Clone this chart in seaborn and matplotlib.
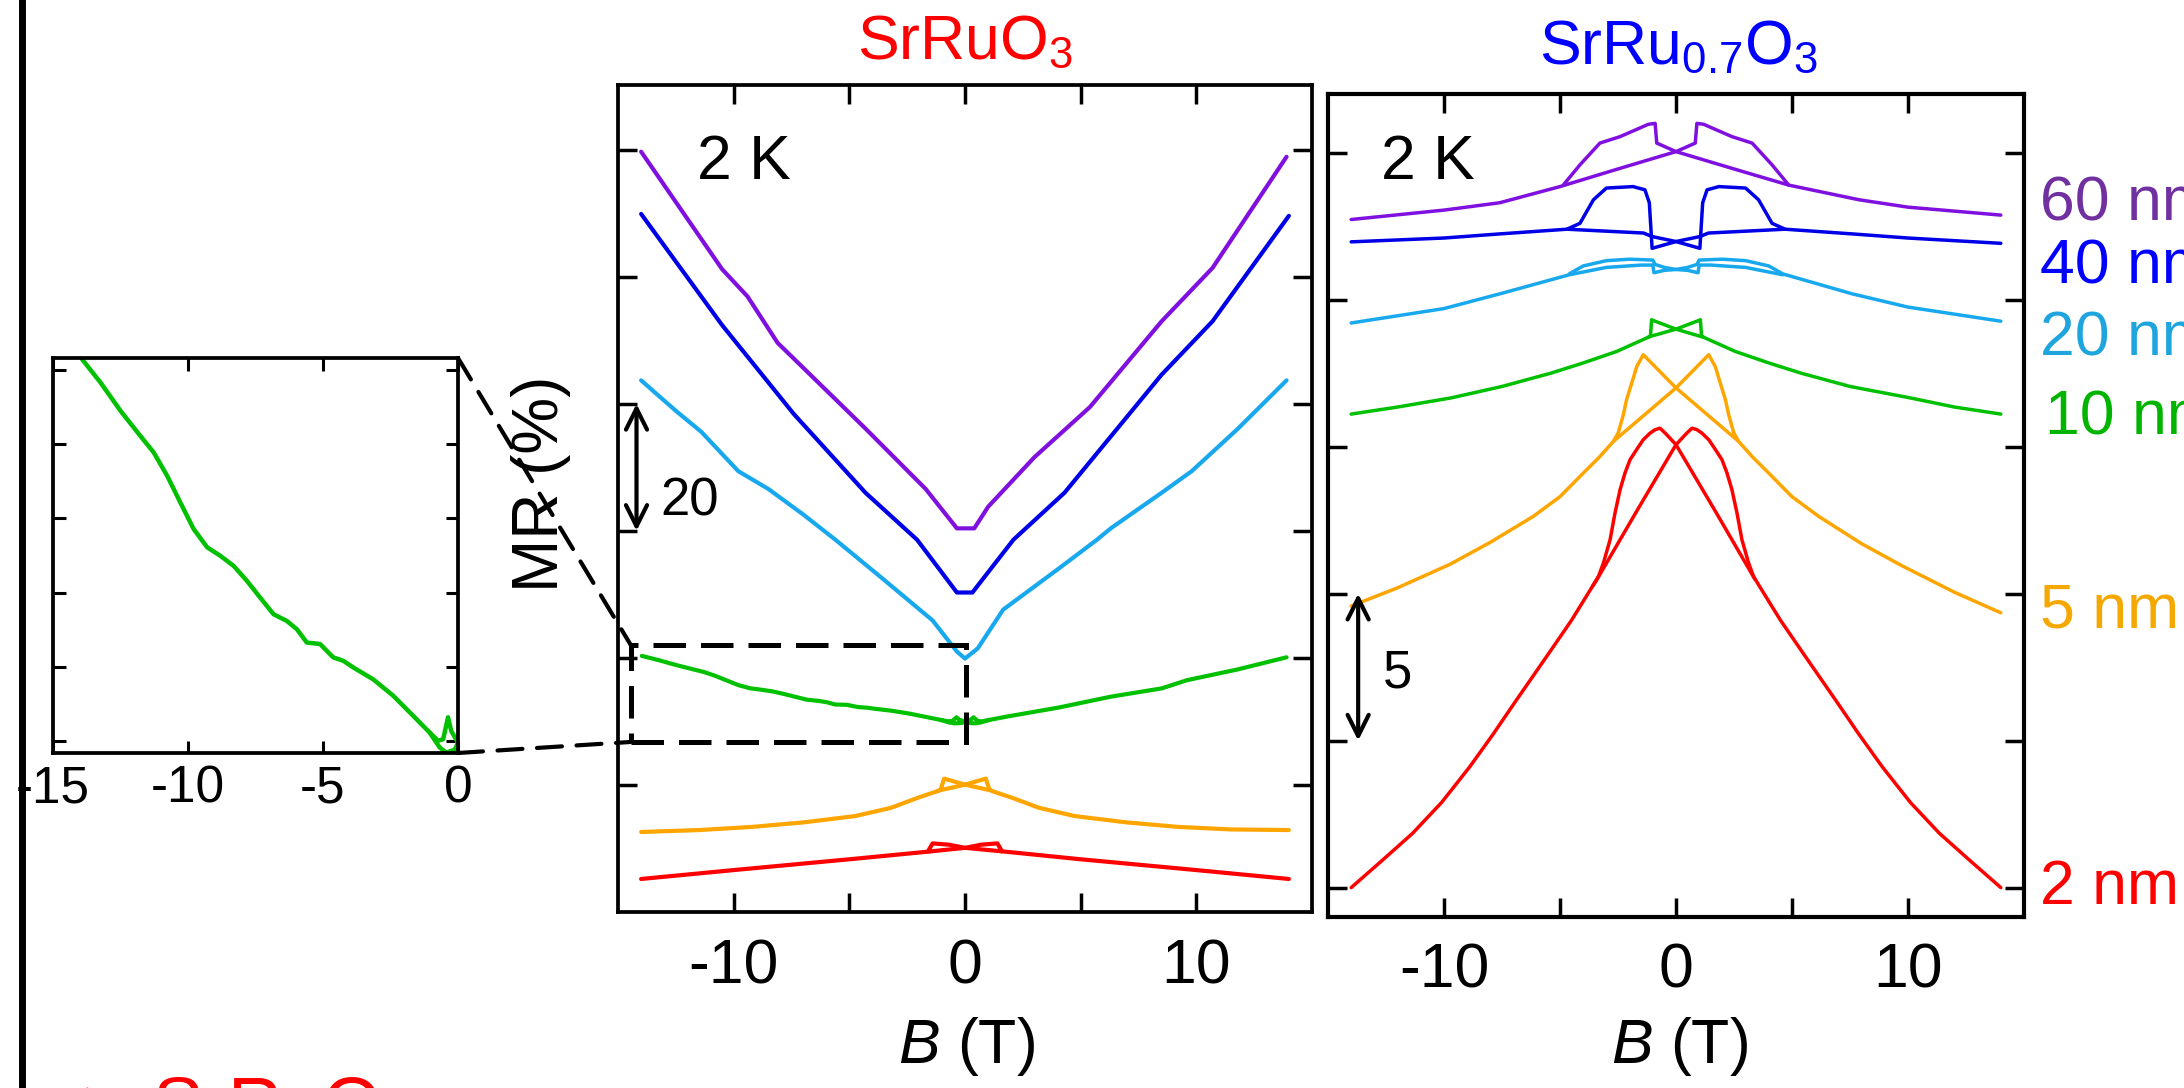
import matplotlib
matplotlib.use("Agg")
import matplotlib.pyplot as plt
import seaborn as sns
from matplotlib.lines import Line2D
from matplotlib.patches import Rectangle, ConnectionPatch

# ---- values: (B in T, MR in % incl. offset) ----
# SrRuO3 panel (left)
SRO_60 = [(-14.0, 99.7), (-10.5, 81.2), (-9.4, 76.9), (-8.1, 69.6), (-7.0, 65.7), (-4.3, 56.1),
          (-1.7, 46.6), (-0.35, 40.4), (0.4, 40.4), (1.0, 43.8), (3.0, 51.6), (5.4, 59.5),
          (8.5, 73.0), (10.7, 81.4), (13.9, 98.9)]
SRO_40 = [(-14.0, 89.9), (-10.5, 72.4), (-7.4, 58.4), (-4.3, 46.0), (-2.07, 38.6), (-0.35, 30.3),
          (0.32, 30.3), (2.09, 38.6), (4.3, 46.0), (8.5, 64.6), (10.7, 73.0), (14.0, 89.6)]
SRO_20 = [(-14.0, 63.7), (-12.5, 58.9), (-11.4, 55.6), (-9.8, 49.4), (-8.5, 46.6), (-7.0, 42.6),
          (-5.6, 38.6), (-3.6, 32.6), (-1.4, 25.9), (-0.35, 21.0), (0.0, 19.9), (0.55, 21.5),
          (1.65, 27.6), (4.1, 34.2), (5.7, 38.6), (6.3, 40.4), (8.5, 46.0), (9.8, 49.4),
          (11.8, 56.1), (13.9, 63.7)]
SRO_10 = [(-13.97, 20.32), (-13.24, 19.65), (-12.5, 18.89), (-11.76, 18.21), (-11.27, 17.77),
          (-10.77, 17.14), (-10.28, 16.42), (-9.79, 15.71), (-9.29, 15.22), (-8.8, 14.99),
          (-8.31, 14.72), (-7.82, 14.32), (-7.33, 13.87), (-6.83, 13.42), (-6.34, 13.24),
          (-5.97, 13.02), (-5.6, 12.66), (-5.11, 12.62), (-4.62, 12.26), (-4.25, 12.17),
          (-3.88, 11.99), (-3.14, 11.67), (-2.4, 11.23), (-1.66, 10.69), (-1.05, 10.24),
          (-0.68, 9.84), (-0.43, 9.7), (-0.12, 9.78), (0.0, 9.97), (0.25, 10.28), (0.37, 10.65),
          (0.55, 10.06), (0.74, 10.02), (1.05, 10.24), (1.86, 10.8), (4.07, 12.2), (6.3, 13.9),
          (8.5, 15.2), (9.6, 16.5), (11.8, 18.2), (13.9, 20.1)]
SRO_10_LOOP = [(1.05, 10.24), (0.68, 9.84), (0.43, 9.7), (0.12, 9.78), (0.0, 9.97), (-0.25, 10.28),
               (-0.37, 10.65), (-0.55, 10.06), (-0.74, 10.02), (-1.05, 10.24)]
SRO_5 = [(-14.0, -7.4), (-11.5, -7.1), (-9.2, -6.6), (-7.0, -5.9), (-4.75, -4.9), (-3.2, -3.6),
         (-2.1, -2.1), (-1.1, -0.85), (0.0, 0.05), (0.9, 1.0), (1.05, -0.7), (1.2, -1.0),
         (2.1, -2.1), (3.2, -3.6), (4.75, -4.9), (7.0, -5.9), (9.2, -6.6), (11.5, -7.0), (14.0, -7.1)]
SRO_5_LOOP = [(1.1, -0.85), (0.0, 0.05), (-0.9, 1.0), (-1.05, -0.7), (-1.2, -1.0)]
SRO_2 = [(-14.0, -14.8), (-10.0, -13.4), (-5.0, -11.7), (-1.6, -10.5), (0.0, -9.9), (0.7, -9.4),
         (1.4, -9.2), (1.6, -10.45), (5.0, -11.7), (10.0, -13.4), (14.0, -14.8)]
SRO_2_LOOP = [(1.6, -10.45), (0.0, -9.9), (-0.7, -9.4), (-1.4, -9.2), (-1.6, -10.45)]

# SrRu0.7O3 panel (right)
SR7_60 = [(-14.0, 22.73), (-10.0, 23.05), (-7.6, 23.3), (-5.0, 23.85), (-2.5, 24.45), (0.0, 25.04),
          (0.83, 25.33), (0.9, 26.0), (1.19, 25.97), (2.41, 25.55), (3.28, 25.33), (4.14, 24.59),
          (4.86, 23.9), (7.9, 23.4), (10.0, 23.15), (14.0, 22.88)]
SR7_60_LOOP = [(4.86, 23.9), (2.5, 24.45), (0.0, 25.04), (-0.83, 25.33), (-0.9, 26.0), (-1.19, 25.97),
               (-2.41, 25.55), (-3.28, 25.33), (-4.14, 24.59), (-4.86, 23.9)]
SR7_40 = [(-14.0, 21.97), (-10.0, 22.1), (-7.6, 22.24), (-4.7, 22.4), (-1.4, 22.27), (-1.03, 22.15),
          (0.0, 21.98), (1.03, 21.75), (1.08, 22.4), (1.15, 23.3), (1.34, 23.74), (1.85, 23.85),
          (3.0, 23.8), (3.56, 23.4), (4.14, 22.6), (4.7, 22.4), (7.6, 22.24), (10.0, 22.1), (14.0, 21.92)]
SR7_40_LOOP = [(4.7, 22.4), (1.4, 22.27), (1.03, 22.15), (0.0, 21.98), (-1.03, 21.75), (-1.08, 22.4),
               (-1.15, 23.3), (-1.34, 23.74), (-1.85, 23.85), (-3.0, 23.8), (-3.56, 23.4),
               (-4.14, 22.6), (-4.7, 22.4)]
SR7_20 = [(-14.0, 19.21), (-10.0, 19.7), (-7.6, 20.2), (-4.6, 20.85), (-3.0, 21.1), (-1.5, 21.18),
          (-1.0, 21.18), (-0.95, 20.92), (-0.5, 21.0), (0.0, 21.03), (0.5, 21.1), (0.9, 21.2),
          (1.0, 21.35), (2.0, 21.38), (3.0, 21.33), (4.0, 21.15), (4.6, 20.88), (7.6, 20.2),
          (10.0, 19.75), (14.0, 19.27)]
SR7_20_LOOP = [(4.6, 20.85), (3.0, 21.1), (1.5, 21.18), (1.0, 21.18), (0.95, 20.92), (0.5, 21.0),
               (0.0, 21.03), (-0.5, 21.1), (-0.9, 21.2), (-1.0, 21.35), (-2.0, 21.38), (-3.0, 21.33),
               (-4.0, 21.15), (-4.6, 20.88)]
SR7_10 = [(-14.0, 16.11), (-12.0, 16.35), (-9.7, 16.66), (-7.5, 17.05), (-5.4, 17.5), (-4.0, 17.85),
          (-2.56, 18.24), (-1.12, 18.75), (0.0, 19.0), (1.0, 19.3), (1.05, 19.32), (1.1, 18.78),
          (1.2, 18.72), (2.56, 18.24), (4.0, 17.85), (5.4, 17.5), (7.5, 17.05), (10.1, 16.66),
          (12.0, 16.35), (14.0, 16.11)]
SR7_10_LOOP = [(1.2, 18.72), (0.0, 19.0), (-1.0, 19.3), (-1.05, 19.32), (-1.1, 18.78), (-1.2, 18.72)]
SR7_5 = [(-14.0, 9.58), (-12.0, 10.2), (-9.74, 11.0), (-8.0, 11.75), (-6.15, 12.63), (-5.0, 13.3),
         (-4.0, 14.1), (-3.3, 14.65), (-2.7, 15.18), (0.0, 17.0), (1.41, 18.13), (1.69, 17.73),
         (1.91, 17.16), (2.13, 16.6), (2.27, 16.09), (2.49, 15.47), (2.7, 15.18), (3.3, 14.65),
         (4.0, 14.1), (5.0, 13.3), (6.15, 12.63), (8.0, 11.7), (9.74, 10.95), (12.0, 10.05),
         (14.0, 9.35)]
SR7_5_LOOP = [(2.7, 15.18), (0.0, 17.0), (-1.41, 18.13), (-1.69, 17.73), (-1.91, 17.16),
              (-2.13, 16.6), (-2.27, 16.09), (-2.49, 15.47), (-2.7, 15.18)]
SR7_2 = [(-14.0, 0.0), (-12.7, 0.9), (-11.35, 1.85), (-10.1, 2.9), (-8.9, 4.1), (-7.9, 5.2),
         (-6.87, 6.39), (-5.5, 7.95), (-4.5, 9.1), (-3.6, 10.25), (-3.41, 10.48), (-1.7, 12.8),
         (0.0, 15.07), (0.45, 15.45), (0.69, 15.63), (0.9, 15.58), (1.12, 15.46), (1.41, 15.24),
         (1.7, 14.9), (1.98, 14.56), (2.2, 14.1), (2.41, 13.54), (2.63, 12.74), (2.84, 11.84),
         (3.13, 11.04), (3.34, 10.59), (3.6, 10.25), (4.5, 9.1), (5.5, 7.95), (6.87, 6.39),
         (7.9, 5.2), (8.9, 4.1), (10.1, 2.9), (11.35, 1.85), (12.7, 0.9), (14.0, 0.0)]
SR7_2_LOOP = [(3.41, 10.48), (1.7, 12.8), (0.0, 15.07), (-0.45, 15.45), (-0.69, 15.63), (-0.9, 15.58),
              (-1.12, 15.46), (-1.41, 15.24), (-1.7, 14.9), (-1.98, 14.56), (-2.2, 14.1),
              (-2.41, 13.54), (-2.63, 12.74), (-2.84, 11.84), (-3.13, 11.04), (-3.34, 10.59),
              (-3.6, 10.25)]

THICKNESS = ['60 nm', '40 nm', '20 nm', '10 nm', '5 nm', '2 nm']
LABEL_Y = [23.27, 21.12, 18.67, 15.99, 9.42, 0.0]
CURVE_COLORS = ['#8010E0', '#0000E8', '#18A8EE', '#00C000', '#FFA500', '#FF0000']
LABEL_COLORS = ['#7030A0', '#0000FF', '#1FA5DE', '#00B400', '#F5A800', '#FF0000']

W, H = 2184, 1088

sns.set_style("ticks")
plt.rcParams['font.family'] = ['Liberation Sans', 'DejaVu Sans']
plt.rcParams['mathtext.fontset'] = 'custom'
plt.rcParams['mathtext.rm'] = 'Liberation Sans'
plt.rcParams['mathtext.it'] = 'Liberation Sans:italic'
plt.rcParams['axes.unicode_minus'] = False
for key in ['text.color', 'axes.labelcolor', 'xtick.color', 'ytick.color', 'axes.edgecolor']:
    plt.rcParams[key] = 'black'

fig = plt.figure(figsize=(W / 100, H / 100), dpi=100)
fig.patch.set_facecolor('white')


def fx(x):
    return x / W


def fy(y):
    return 1 - y / H


def draw(ax, pts, color, lw):
    sns.lineplot(x=[p[0] for p in pts], y=[p[1] for p in pts], sort=False,
                 estimator=None, color=color, lw=lw, ax=ax, solid_joinstyle='round')


def style(ax, fs, tl, tw, sw, pad):
    for s in ax.spines.values():
        s.set_visible(True)
        s.set_linewidth(sw)
        s.set_color('k')
    ax.tick_params(direction='in', length=tl, width=tw, top=True, right=True,
                   labelsize=fs, pad=pad, colors='k')
    ax.set_xlabel('')
    ax.set_ylabel('')


ax1 = fig.add_axes([fx(618), fy(912), fx(694), 827 / H])
ax2 = fig.add_axes([fx(1328), fy(917), fx(696), 823 / H])
axi = fig.add_axes([fx(53), fy(753), fx(405), 395 / H])

# left panel: SrRuO3
for pts, c in zip([SRO_60, SRO_40, SRO_20, SRO_10, SRO_5, SRO_2], CURVE_COLORS):
    draw(ax1, pts, c, 3.0)
for pts, c in zip([SRO_10_LOOP, SRO_5_LOOP, SRO_2_LOOP], CURVE_COLORS[3:]):
    draw(ax1, pts, c, 3.0)
ax1.set_xlim(-15, 15)
ax1.set_ylim(-20, 110.2)
ax1.set_xticks([-10, -5, 0, 5, 10])
ax1.set_xticklabels(['-10', '', '0', '', '10'])
ax1.set_yticks([0, 20, 40, 60, 80, 100])
style(ax1, 45, 13.5, 2.5, 2.7, 18)
ax1.tick_params(labelleft=False)
ax1.text(-9.56, 98, '2 K', fontsize=45, ha='center', va='center')
ax1.annotate('', xy=(-14.2, 40), xytext=(-14.2, 60),
             arrowprops=dict(arrowstyle='<->', lw=3.0, color='k', mutation_scale=38,
                             shrinkA=0, shrinkB=0))
ax1.text(-11.9, 44.7, '20', fontsize=38, ha='center', va='center')
ax1.add_patch(Rectangle((-14.45, 6.77), 14.5, 15.28, fill=False, ec='k', lw=3.6,
                        ls=(0, (6.5, 3)), zorder=5))

# right panel: SrRu0.7O3
for pts, c in zip([SR7_60, SR7_40, SR7_20, SR7_10, SR7_5, SR7_2], CURVE_COLORS):
    draw(ax2, pts, c, 2.5)
for pts, c in zip([SR7_60_LOOP, SR7_40_LOOP, SR7_20_LOOP, SR7_10_LOOP, SR7_5_LOOP, SR7_2_LOOP],
                  CURVE_COLORS):
    draw(ax2, pts, c, 2.5)
ax2.set_xlim(-15, 15)
ax2.set_ylim(-1, 27)
ax2.set_xticks([-10, -5, 0, 5, 10])
ax2.set_xticklabels(['-10', '', '0', '', '10'])
ax2.set_yticks([0, 5, 10, 15, 20, 25])
style(ax2, 45, 13.5, 2.5, 3.0, 18)
ax2.tick_params(labelleft=False)
ax2.text(-10.7, 24.66, '2 K', fontsize=45, ha='center', va='center')
ax2.annotate('', xy=(-13.7, 5.0), xytext=(-13.7, 10.0),
             arrowprops=dict(arrowstyle='<->', lw=3.0, color='k', mutation_scale=38,
                             shrinkA=0, shrinkB=0))
ax2.text(-12.0, 7.3, '5', fontsize=38, ha='center', va='center')
for lab, yv, c in zip(THICKNESS, LABEL_Y, LABEL_COLORS):
    xoff = 15.9 if lab == '10 nm' else 15.69
    ax2.text(xoff, yv, lab, fontsize=45, color=c, ha='left', va='center', clip_on=False)

# inset: zoom on the 10 nm SrRuO3 curve
draw(axi, SRO_10, CURVE_COLORS[3], 3.2)
draw(axi, SRO_10_LOOP, CURVE_COLORS[3], 3.2)
axi.set_xlim(-15, 0)
axi.set_ylim(9.69, 20.31)
axi.set_xticks([-15, -10, -5, 0])
axi.set_xticklabels(['-15', '-10', '-5', '0'])
axi.set_yticks([10, 12, 14, 16, 18, 20])
style(axi, 37, 9, 2.2, 2.7, 8)
axi.tick_params(labelleft=False)

# dashed connectors between inset and box
for ya, yb in [(20.31, 22.05), (9.69, 6.77)]:
    con = ConnectionPatch(xyA=(0, ya), coordsA=axi.transData, xyB=(-14.45, yb),
                          coordsB=ax1.transData, color='k', lw=3.0, ls=(0, (6, 3.5)))
    fig.add_artist(con)

# titles and axis labels
fig.text(fx(965), fy(59), r'SrRuO$_3$', fontsize=45, color='#FF0000', ha='center', va='baseline')
fig.text(fx(1679), fy(64), r'SrRu$_{0.7}$O$_3$', fontsize=45, color='#0000FF', ha='center',
         va='baseline')
fig.text(fx(541), fy(484), 'MR (%)', fontsize=46, rotation=90, ha='center', va='center')
fig.text(fx(966), fy(1063), r'$\mathit{B}$ (T)', fontsize=45, ha='center', va='baseline')
fig.text(fx(1679), fy(1063), r'$\mathit{B}$ (T)', fontsize=45, ha='center', va='baseline')

# frame bar at the left and the cut text at the bottom
fig.add_artist(Line2D([fx(21.5), fx(21.5)], [0, 1], transform=fig.transFigure, color='k', lw=5))
fig.text(fx(80), fy(1075), '\u27a2', fontsize=40, color='#FF0000', ha='left', va='top',
         family=['DejaVu Sans'])
fig.text(fx(152), fy(1075), r'SrRuO$_3$', fontsize=54, color='#FF0000', ha='left', va='top')

fig.savefig('out.png', dpi=100, facecolor='white')
